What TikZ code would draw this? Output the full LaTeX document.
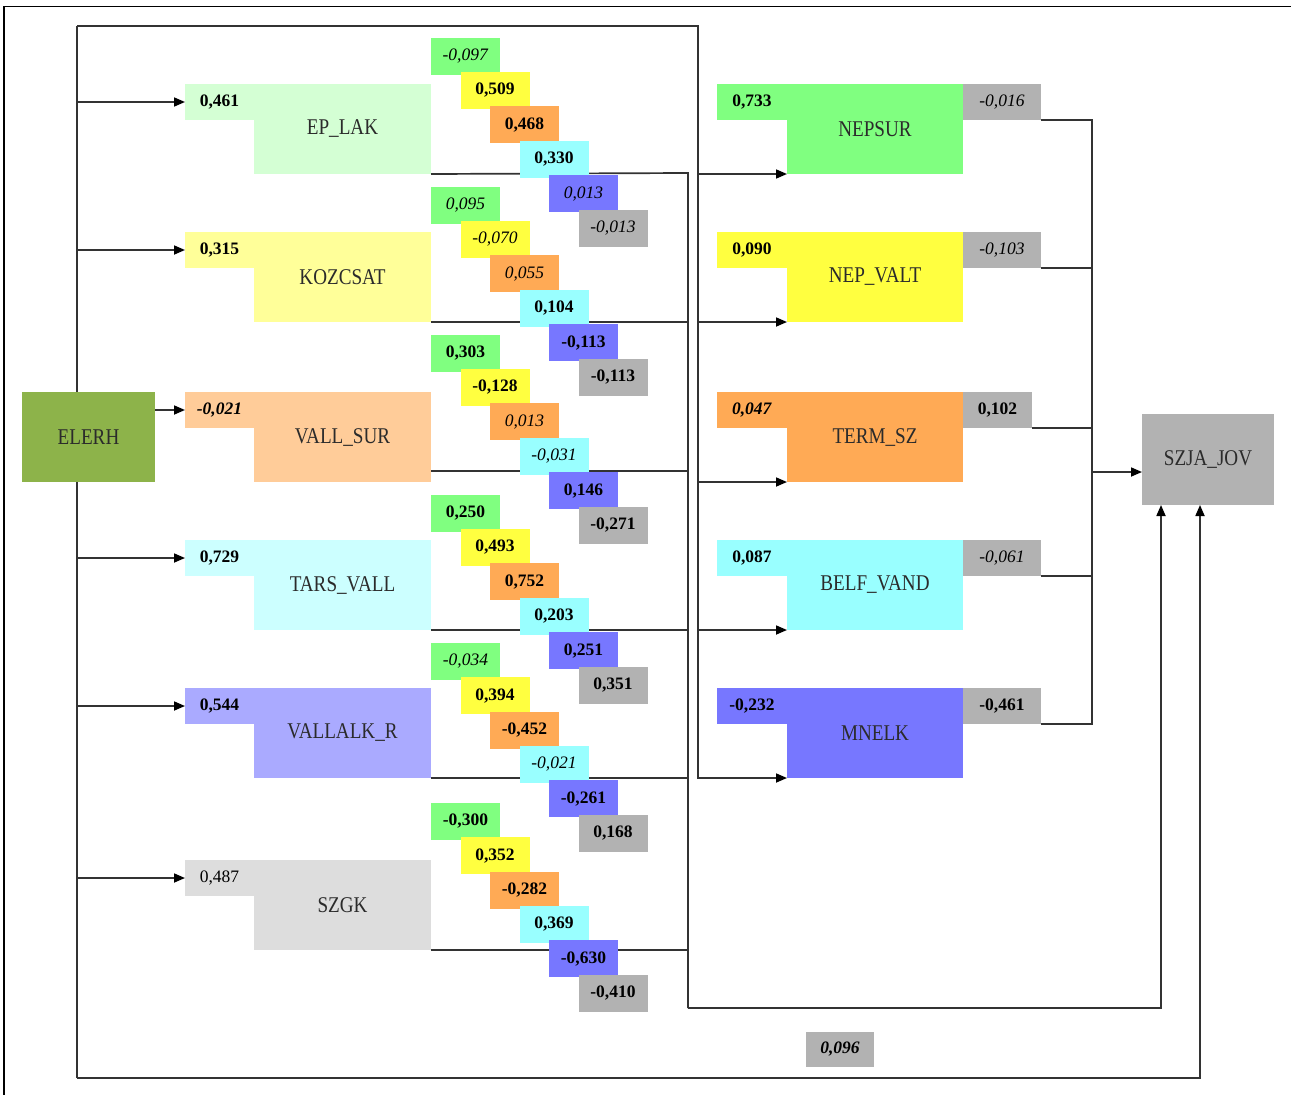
\documentclass[tikz,border=0pt]{standalone}
\usepackage{fontspec}
\setmainfont{Liberation Serif}
\newfontfamily\namefont[FakeStretch=0.85]{Liberation Serif}
\usetikzlibrary{arrows.meta,backgrounds}

\definecolor{c333333}{RGB}{51,51,51}
\definecolor{c2b2b2b}{RGB}{43,43,43}
\definecolor{c8db34a}{RGB}{141,179,74}
\definecolor{cd4ffd4}{RGB}{212,255,212}
\definecolor{cffff99}{RGB}{255,255,153}
\definecolor{cffcc99}{RGB}{255,204,153}
\definecolor{cccffff}{RGB}{204,255,255}
\definecolor{caaaaff}{RGB}{170,170,255}
\definecolor{cdddddd}{RGB}{221,221,221}
\definecolor{c80ff80}{RGB}{128,255,128}
\definecolor{cffff40}{RGB}{255,255,64}
\definecolor{cffaa55}{RGB}{255,170,85}
\definecolor{c99ffff}{RGB}{153,255,255}
\definecolor{c7777ff}{RGB}{119,119,255}
\definecolor{cb2b2b2}{RGB}{178,178,178}

\tikzset{
  namebox/.style={anchor=north west, minimum width=177pt, minimum height=90pt,
    text=c2b2b2b, font=\namefont\fontsize{22.5}{26}\selectfont},
  tabbox/.style={anchor=north west, minimum width=69pt, minimum height=36pt,
    font=\fontsize{17.5}{20}\selectfont},
  coefbox/.style={anchor=north west, minimum width=69pt, minimum height=37pt,
    font=\fontsize{17.5}{20}\selectfont},
  wire/.style={draw=c333333, line width=1.7pt},
  arr/.style={wire, -{Triangle[length=11pt, width=9pt, color=black]}},
}

\begin{document}
\begin{tikzpicture}[y=1pt, x=1pt, yscale=-1, inner sep=0pt, outer sep=0pt]
\useasboundingbox (0,0) rectangle (1291,1095);
\draw[black, line width=1.5pt] (4,1095) -- (4,6.5) -- (1291,6.5);

% source
\node[namebox, fill=c8db34a, minimum width=133pt] (elerh) at (22,392) {ELERH};

% left column
\node[tabbox, fill=cd4ffd4] (eplakT) at (185,84) {\textbf{0,461}};
\node[namebox, fill=cd4ffd4] (eplak) at (254,84) {EP\_LAK};
\node[tabbox, fill=cffff99] (kozcsatT) at (185,232) {\textbf{0,315}};
\node[namebox, fill=cffff99] (kozcsat) at (254,232) {KOZCSAT};
\node[tabbox, fill=cffcc99] (vallsurT) at (185,392) {\textbf{\textit{-0,021}}};
\node[namebox, fill=cffcc99] (vallsur) at (254,392) {VALL\_SUR};
\node[tabbox, fill=cccffff] (tarsvallT) at (185,540) {\textbf{0,729}};
\node[namebox, fill=cccffff] (tarsvall) at (254,540) {TARS\_VALL};
\node[tabbox, fill=caaaaff] (vallalkT) at (185,688) {\textbf{0,544}};
\node[namebox, fill=caaaaff] (vallalk) at (254,688) {VALLALK\_R};
\node[tabbox, fill=cdddddd] (szgkT) at (185,860) {0,487};
\node[namebox, fill=cdddddd] (szgk) at (254,860) {SZGK};

% coefficient steps
\node[coefbox, fill=c80ff80] (eplak1) at (431,37.5) {\textit{-0,097}};
\node[coefbox, fill=cffff40] (eplak2) at (460.5,71.9) {\textbf{0,509}};
\node[coefbox, fill=cffaa55] (eplak3) at (490,106.3) {\textbf{0,468}};
\node[coefbox, fill=c99ffff] (eplak4) at (519.5,140.7) {\textbf{0,330}};
\node[coefbox, fill=c7777ff] (eplak5) at (549,175.1) {\textit{0,013}};
\node[coefbox, fill=cb2b2b2] (eplak6) at (578.5,209.5) {\textit{-0,013}};

\node[coefbox, fill=c80ff80] (kozcsat1) at (431,186.5) {\textit{0,095}};
\node[coefbox, fill=cffff40] (kozcsat2) at (460.5,220.9) {\textit{-0,070}};
\node[coefbox, fill=cffaa55] (kozcsat3) at (490,255.3) {\textit{0,055}};
\node[coefbox, fill=c99ffff] (kozcsat4) at (519.5,289.7) {\textbf{0,104}};
\node[coefbox, fill=c7777ff] (kozcsat5) at (549,324.1) {\textbf{-0,113}};
\node[coefbox, fill=cb2b2b2] (kozcsat6) at (578.5,358.5) {\textbf{-0,113}};

\node[coefbox, fill=c80ff80] (vallsur1) at (431,334.5) {\textbf{0,303}};
\node[coefbox, fill=cffff40] (vallsur2) at (460.5,368.9) {\textbf{-0,128}};
\node[coefbox, fill=cffaa55] (vallsur3) at (490,403.3) {\textit{0,013}};
\node[coefbox, fill=c99ffff] (vallsur4) at (519.5,437.7) {\textit{-0,031}};
\node[coefbox, fill=c7777ff] (vallsur5) at (549,472.1) {\textbf{0,146}};
\node[coefbox, fill=cb2b2b2] (vallsur6) at (578.5,506.5) {\textbf{-0,271}};

\node[coefbox, fill=c80ff80] (tarsvall1) at (431,494.5) {\textbf{0,250}};
\node[coefbox, fill=cffff40] (tarsvall2) at (460.5,528.9) {\textbf{0,493}};
\node[coefbox, fill=cffaa55] (tarsvall3) at (490,563.3) {\textbf{0,752}};
\node[coefbox, fill=c99ffff] (tarsvall4) at (519.5,597.7) {\textbf{0,203}};
\node[coefbox, fill=c7777ff] (tarsvall5) at (549,632.1) {\textbf{0,251}};
\node[coefbox, fill=cb2b2b2] (tarsvall6) at (578.5,666.5) {\textbf{0,351}};

\node[coefbox, fill=c80ff80] (vallalk1) at (431,642.7) {\textit{-0,034}};
\node[coefbox, fill=cffff40] (vallalk2) at (460.5,677.1) {\textbf{0,394}};
\node[coefbox, fill=cffaa55] (vallalk3) at (490,711.5) {\textbf{-0,452}};
\node[coefbox, fill=c99ffff] (vallalk4) at (519.5,745.9) {\textit{-0,021}};
\node[coefbox, fill=c7777ff] (vallalk5) at (549,780.3) {\textbf{-0,261}};
\node[coefbox, fill=cb2b2b2] (vallalk6) at (578.5,814.7) {\textbf{0,168}};

\node[coefbox, fill=c80ff80] (szgk1) at (431,802.7) {\textbf{-0,300}};
\node[coefbox, fill=cffff40] (szgk2) at (460.5,837.1) {\textbf{0,352}};
\node[coefbox, fill=cffaa55] (szgk3) at (490,871.5) {\textbf{-0,282}};
\node[coefbox, fill=c99ffff] (szgk4) at (519.5,905.9) {\textbf{0,369}};
\node[coefbox, fill=c7777ff] (szgk5) at (549,940.3) {\textbf{-0,630}};
\node[coefbox, fill=cb2b2b2] (szgk6) at (578.5,974.7) {\textbf{-0,410}};

% right column
\node[tabbox, fill=c80ff80, minimum width=70pt] (nepsurT) at (717,84) {\textbf{0,733}};
\node[namebox, fill=c80ff80, minimum width=176pt] (nepsur) at (787,84) {NEPSUR};
\node[tabbox, fill=cb2b2b2, minimum width=78pt] (nepsurG) at (963,84) {\textit{-0,016}};
\node[tabbox, fill=cffff40, minimum width=70pt] (nepvaltT) at (717,232) {\textbf{0,090}};
\node[namebox, fill=cffff40, minimum width=176pt] (nepvalt) at (787,232) {NEP\_VALT};
\node[tabbox, fill=cb2b2b2, minimum width=78pt] (nepvaltG) at (963,232) {\textit{-0,103}};
\node[tabbox, fill=cffaa55, minimum width=70pt] (termszT) at (717,392) {\textbf{\textit{0,047}}};
\node[namebox, fill=cffaa55, minimum width=176pt] (termsz) at (787,392) {TERM\_SZ};
\node[tabbox, fill=cb2b2b2] (termszG) at (963,392) {\textbf{0,102}};
\node[tabbox, fill=c99ffff, minimum width=70pt] (belfvandT) at (717,540) {\textbf{0,087}};
\node[namebox, fill=c99ffff, minimum width=176pt] (belfvand) at (787,540) {BELF\_VAND};
\node[tabbox, fill=cb2b2b2, minimum width=78pt] (belfvandG) at (963,540) {\textit{-0,061}};
\node[tabbox, fill=c7777ff, minimum width=70pt] (mnelkT) at (717,688) {\textbf{-0,232}};
\node[namebox, fill=c7777ff, minimum width=176pt] (mnelk) at (787,688) {MNELK};
\node[tabbox, fill=cb2b2b2, minimum width=78pt] (mnelkG) at (963,688) {\textbf{-0,461}};

% target
\node[namebox, fill=cb2b2b2, minimum width=132pt, minimum height=91pt] (szja) at (1142,414) {SZJA\_JOV};
\node[tabbox, fill=cb2b2b2, minimum width=68pt, minimum height=35pt] (direct) at (806,1032) {\textbf{\textit{0,096}}};

\begin{scope}[on background layer]
  % from ELERH
  \coordinate (topL) at (77,26);
  \coordinate (topR) at (698,26);
  \coordinate (botL) at (77,1078);
  \coordinate (botR) at (1200,1078);
  \draw[wire] (botL) -- (topL);
  \draw[arr] (topL) -- (topR) |- (mnelk.south west);
  \draw[arr] (topR |- nepsur.south west) -- (nepsur.south west);
  \draw[arr] (topR |- nepvalt.south west) -- (nepvalt.south west);
  \draw[arr] (topR |- termsz.south west) -- (termsz.south west);
  \draw[arr] (topR |- belfvand.south west) -- (belfvand.south west);
  \draw[arr] (botL) -- (botR) -- (botR |- szja.south);
  \draw[arr] (topL |- eplakT.west) -- (eplakT.west);
  \draw[arr] (topL |- kozcsatT.west) -- (kozcsatT.west);
  \draw[arr] (elerh.east |- vallsurT.west) -- (vallsurT.west);
  \draw[arr] (topL |- tarsvallT.west) -- (tarsvallT.west);
  \draw[arr] (topL |- vallalkT.west) -- (vallalkT.west);
  \draw[arr] (topL |- szgkT.west) -- (szgkT.west);

  % left column to target
  \coordinate (busA) at (688,173);
  \coordinate (busB) at (688,1008);
  \coordinate (jovA) at (1161,1008);
  \coordinate (vallsurO) at (431,471);
  \draw[wire] (eplak.south east) -- (busA) -- (busB);
  \draw[wire] (kozcsat.south east) -- (busA |- kozcsat.south east);
  \draw[wire] (vallsurO) -- (busA |- vallsurO);
  \draw[wire] (tarsvall.south east) -- (busA |- tarsvall.south east);
  \draw[wire] (vallalk.south east) -- (busA |- vallalk.south east);
  \draw[wire] (szgk.south east) -- (busA |- szgk.south east);
  \draw[arr] (busB) -- (jovA) -- (jovA |- szja.south);

  % right column to target
  \coordinate (colA) at (1092,472);
  \draw[wire] (nepsurG.south east) -- (colA |- nepsurG.south east)
    -- (colA |- mnelkG.south east) -- (mnelkG.south east);
  \draw[wire] (nepvaltG.south east) -- (colA |- nepvaltG.south east);
  \draw[wire] (termszG.south east) -- (colA |- termszG.south east);
  \draw[wire] (belfvandG.south east) -- (colA |- belfvandG.south east);
  \draw[arr] (colA) -- (colA -| szja.west);
\end{scope}

\end{tikzpicture}
\end{document}
